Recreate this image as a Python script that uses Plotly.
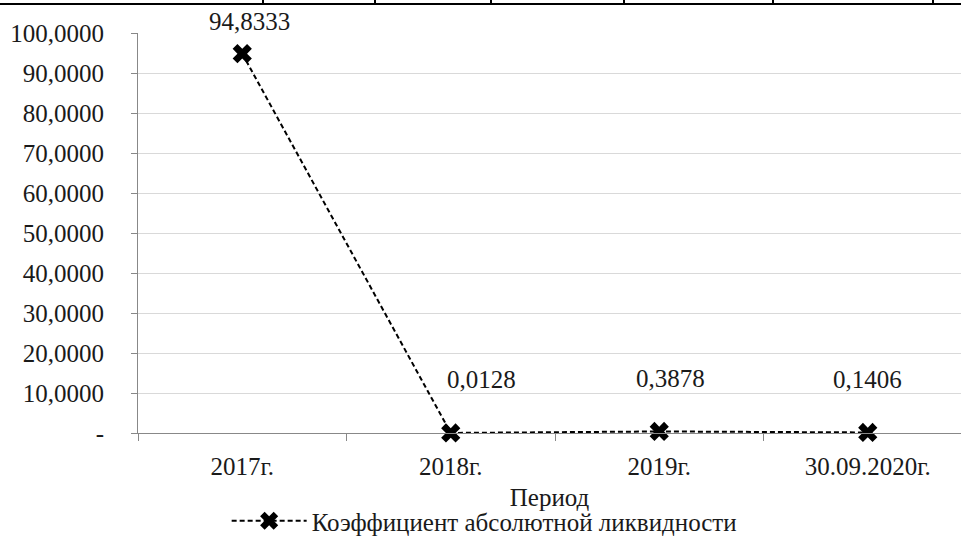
import plotly.graph_objects as go

categories = ["2017г.", "2018г.", "2019г.", "30.09.2020г."]
values = [94.8333, 0.0128, 0.3878, 0.1406]
series_name = "Коэффициент абсолютной ликвидности"
x_title = "Период"
y_tickvals = [0, 10, 20, 30, 40, 50, 60, 70, 80, 90, 100]
y_ticktext = ["-", "10,0000", "20,0000", "30,0000", "40,0000", "50,0000",
              "60,0000", "70,0000", "80,0000", "90,0000", "100,0000"]

W, H = 961, 548
ML, MR, MT, MB = 138, 0, 33, 115
FONT = "Liberation Serif, DejaVu Serif, serif"
TXT = "#1a1a1a"
FS = 25

fig = go.Figure()
fig.add_trace(go.Scatter(
    x=categories, y=values, name=series_name, mode="lines+markers",
    line=dict(color="black", width=2, dash="5px,3px"),
    marker=dict(symbol="x", size=17, color="black", line=dict(width=0)),
    cliponaxis=False,
))

# data labels
xshifts = [7, 31, 11, 0]
yshifts = [32, 53, 53, 53]
for c, v, xs, ys in zip(categories, values, xshifts, yshifts):
    fig.add_annotation(x=c, y=v, text=f"{v:.4f}".replace(".", ","),
                       showarrow=False, xshift=xs, yshift=ys,
                       font=dict(family=FONT, size=FS, color=TXT))

# page-table fragment at top
pw = W - ML - MR
ph = H - MT - MB
def px_x(p):
    return (p - ML) / pw
def px_y(p):
    return (H - MB - p) / ph
fig.add_shape(type="line", xref="paper", yref="paper",
              x0=px_x(0), x1=px_x(W), y0=px_y(4), y1=px_y(4),
              line=dict(color="black", width=2))
for vx in [263, 375, 491, 624, 773, 933]:
    fig.add_shape(type="line", xref="paper", yref="paper",
                  x0=px_x(vx), x1=px_x(vx), y0=px_y(-2), y1=px_y(4),
                  line=dict(color="black", width=2))

fig.update_layout(
    width=W, height=H,
    margin=dict(l=ML, r=MR, t=MT, b=MB, pad=0, autoexpand=False),
    paper_bgcolor="white", plot_bgcolor="white",
    font=dict(family=FONT, size=FS, color=TXT),
    showlegend=True,
    legend=dict(orientation="h", x=0.4206, xanchor="center", y=-0.1625, yanchor="top",
                font=dict(family=FONT, size=FS, color=TXT),
                itemwidth=75, bgcolor="rgba(0,0,0,0)"),
    xaxis=dict(type="category", range=[-0.5, -0.5 + pw / 208.5], automargin=False,
               tickson="boundaries", ticks="outside", ticklen=7, tickcolor="#888888",
               showline=True, linecolor="#888888", linewidth=1,
               showgrid=False, zeroline=False, ticklabelstandoff=11,
               tickfont=dict(family=FONT, size=FS, color=TXT),
               title=dict(text=x_title, font=dict(family=FONT, size=FS, color=TXT), standoff=9)),
    yaxis=dict(range=[0, 100], tickvals=y_tickvals, ticktext=y_ticktext, automargin=False,
               ticks="outside", ticklen=6, tickcolor="#888888",
               showline=True, linecolor="#888888", linewidth=1,
               showgrid=True, gridcolor="#d9d9d9", gridwidth=1, zeroline=False,
               ticklabelstandoff=22,
               tickfont=dict(family=FONT, size=FS, color=TXT)),
)

fig.write_html("out.html", config={"displayModeBar": False},
               post_script="document.body.style.margin='0';document.body.style.overflow='hidden';")
